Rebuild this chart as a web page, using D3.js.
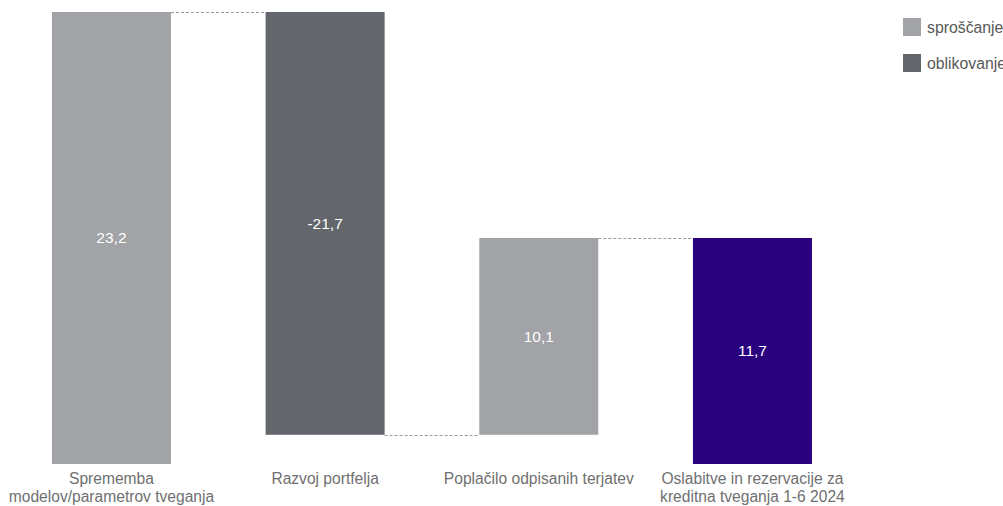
<!DOCTYPE html>
<html>
<head>
<meta charset="utf-8">
<script src="https://cdn.jsdelivr.net/npm/d3@7"></script>
<style>
  body { margin: 0; background: #fff; }
  svg { display: block; font-family: "Liberation Sans", Arial, sans-serif; }
</style>
</head>
<body>
<div id="chart"></div>
<script>
var categories = [
  ["Sprememba", "modelov/parametrov tveganja"],
  ["Razvoj portfelja"],
  ["Poplačilo odpisanih terjatev"],
  ["Oslabitve in rezervacije za", "kreditna tveganja 1-6 2024"]
];
var values = [23.2, -21.7, 10.1, 11.7];
var valueLabels = ["23,2", "-21,7", "10,1", "11,7"];
var kinds = ["sproscanje", "oblikovanje", "sproscanje", "total"];
var legendLabels = ["sproščanje", "oblikovanje"];

var width = 1003, height = 506;
var colors = { sproscanje: "#a2a3a7", oblikovanje: "#63666b", total: "#29007e" };

var svg = d3.select("#chart").append("svg")
    .attr("width", width)
    .attr("height", height);

// running totals for the waterfall; the total bar closes at the running sum
var steps = [];
var run = 0;
values.forEach(function(v, i) {
  if (kinds[i] === "total") {
    steps.push({ i: i, start: 0, end: run });
  } else {
    steps.push({ i: i, start: run, end: run + v });
    run = run + v;
  }
});

var x = d3.scaleBand()
    .domain(d3.range(categories.length))
    .range([-42.7, 906.6])
    .paddingInner(0.443)
    .paddingOuter(0.443);

var y = d3.scaleLinear()
    .domain([0, 23.2])
    .range([464, 12]);

// connectors
for (var k = 0; k < steps.length - 1; k++) {
  var lvl = steps[k].end;
  svg.append("line")
      .attr("x1", x(k) + x.bandwidth())
      .attr("x2", x(k + 1))
      .attr("y1", Math.round(y(lvl)) + 0.5)
      .attr("y2", Math.round(y(lvl)) + 0.5)
      .attr("stroke", "#9a9a9a")
      .attr("stroke-width", 1)
      .attr("stroke-dasharray", "3,2");
}

svg.selectAll(".bar")
    .data(steps)
    .enter().append("rect")
    .attr("class", "bar")
    .attr("x", function(d) { return x(d.i); })
    .attr("width", x.bandwidth())
    .attr("y", function(d) { return y(Math.max(d.start, d.end)); })
    .attr("height", function(d) { return Math.abs(y(d.start) - y(d.end)); })
    .attr("fill", function(d) { return colors[kinds[d.i]]; });

svg.selectAll(".val")
    .data(steps)
    .enter().append("text")
    .attr("class", "val")
    .attr("x", function(d) { return x(d.i) + x.bandwidth() / 2; })
    .attr("y", function(d) { return (y(d.start) + y(d.end)) / 2; })
    .attr("dy", ".35em")
    .attr("text-anchor", "middle")
    .attr("fill", "#fff")
    .style("font-size", "15.5px")
    .text(function(d) { return valueLabels[d.i]; });

// category labels
var cat = svg.selectAll(".cat")
    .data(categories)
    .enter().append("text")
    .attr("class", "cat")
    .attr("x", function(d, i) { return x(i) + x.bandwidth() / 2; })
    .attr("y", 484)
    .attr("text-anchor", "middle")
    .attr("fill", "#707070")
    .style("font-size", "15.6px");

cat.selectAll("tspan")
    .data(function(d) { return d; })
    .enter().append("tspan")
    .attr("x", function() { return d3.select(this.parentNode).attr("x"); })
    .attr("dy", function(d, j) { return j === 0 ? 0 : 18; })
    .text(function(d) { return d; });

// legend
var legend = svg.selectAll(".legend")
    .data(legendLabels)
    .enter().append("g")
    .attr("class", "legend")
    .attr("transform", function(d, i) { return "translate(903," + (18 + i * 36) + ")"; });

legend.append("rect")
    .attr("width", 18)
    .attr("height", 18)
    .attr("fill", function(d, i) { return i === 0 ? colors.sproscanje : colors.oblikovanje; });

legend.append("text")
    .attr("x", 24)
    .attr("y", 9)
    .attr("dy", ".35em")
    .attr("fill", "#595959")
    .style("font-size", "15.8px")
    .text(function(d) { return d; });
</script>
</body>
</html>
